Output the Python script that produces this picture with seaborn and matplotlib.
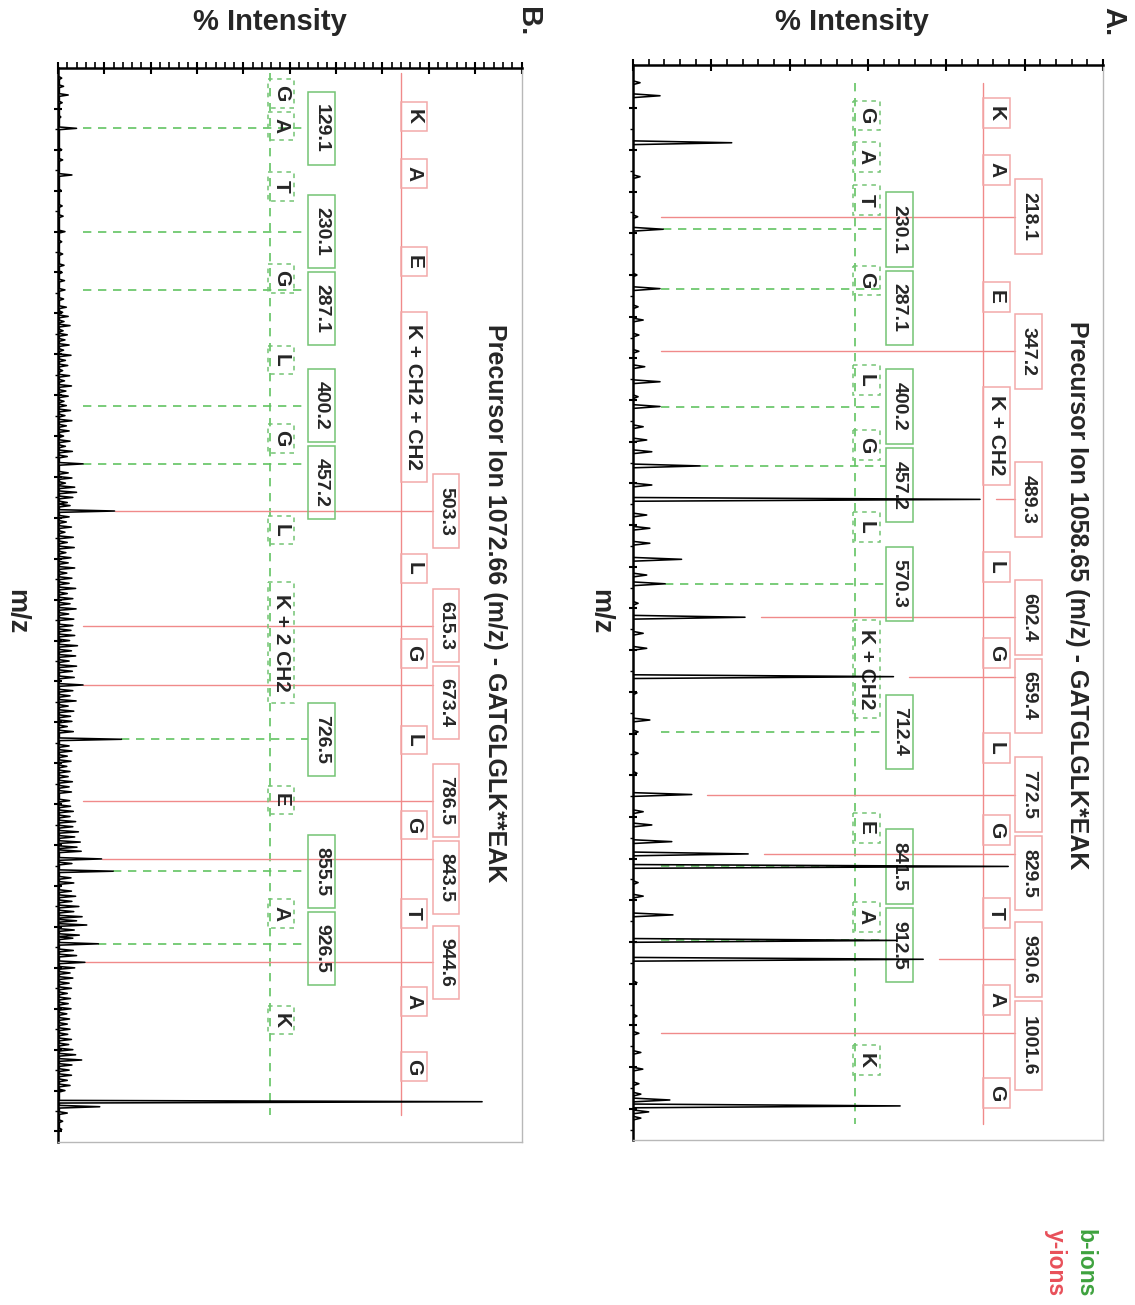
import numpy as np
import pandas as pd
import seaborn as sns
import matplotlib.pyplot as plt
from matplotlib.patches import Rectangle
from matplotlib.ticker import MultipleLocator, FixedLocator, NullFormatter

# ---------------- Spectrum A: GATGLGLK*EAK ----------------
a_title = "Precursor Ion 1058.65 (m/z) - GATGLGLK*EAK"
a_y_ions = [218.1, 347.2, 489.3, 602.4, 659.4, 772.5, 829.5, 930.6, 1001.6]
a_y_int = [1.2, 1.5, 88.6, 28.6, 66.5, 15.0, 29.4, 74.1, 1.5]
a_b_ions = [230.1, 287.1, 400.2, 457.2, 570.3, 712.4, 841.5, 912.5]
a_b_int = [7.7, 6.9, 6.9, 17.1, 8.2, 1.3, 95.8, 67.3]
a_other_mz = [89.5, 102.0, 147.1, 179.7, 274.0, 304.5, 317.2, 331.6, 362.0,
              376.4, 390.8, 419.6, 432.3, 443.6, 475.5, 504.3, 517.0, 531.4,
              546.8, 561.9, 589.0, 617.8, 632.2, 675.0, 701.0, 732.9, 752.1,
              789.0, 801.7, 817.7, 857.0, 870.0, 888.0, 953.0, 985.0, 1020.0,
              1036.0, 1050.0, 1060.0, 1065.6, 1071.3, 1077.0, 1083.0]
a_other_int = [1.8, 6.9, 25.2, 1.8, 1.0, 1.3, 2.6, 1.5, 3.0,
               6.9, 1.3, 2.6, 3.5, 4.8, 4.8, 3.5, 4.3, 4.3,
               12.4, 3.5, 1.3, 2.6, 3.5, 1.0, 4.3, 1.3, 1.0,
               2.6, 4.8, 9.9, 1.3, 2.6, 10.2, 1.0, 1.0, 2.0,
               2.5, 1.5, 2.0, 9.4, 68.2, 4.0, 2.0]
a_y_seq = ["K", "A", "E", "K + CH2", "L", "G", "L", "G", "T", "A", "G"]
a_y_seq_mz = [118.6, 173.3, 295.1, 428.1, 554.2, 636.7, 727.9, 806.6, 886.2, 969.6, 1058.9]
a_b_seq = ["G", "A", "T", "G", "L", "G", "L", "K + CH2", "E", "A", "K"]
a_b_seq_mz = [120.6, 160.8, 202.1, 278.9, 374.8, 437.2, 515.8, 652.0, 804.7, 890.0, 1027.3]

# ---------------- Spectrum B: GATGLGLK**EAK ----------------
b_title = "Precursor Ion 1072.66 (m/z) - GATGLGLK**EAK"
b_y_ions = [503.3, 615.3, 673.4, 786.5, 843.5, 944.6]
b_y_int = [12.2, 3.2, 5.4, 2.5, 9.4, 5.8]
b_b_ions = [129.1, 230.1, 287.1, 400.2, 457.2, 726.5, 855.5, 926.5]
b_b_int = [4.0, 1.5, 1.5, 1.8, 5.4, 13.7, 11.9, 8.7]
b_other_mz = [80, 88, 96.5, 104, 118, 150, 160, 174.7, 190, 205, 215, 240, 252,
              263, 270, 278, 296, 304, 309, 313, 318, 322, 327, 331, 336, 341,
              346, 351, 356, 361, 366, 371, 376, 381, 386, 391, 396, 405, 410,
              415, 420, 425, 430, 435, 440, 445, 450, 466, 471, 476, 480, 485,
              490, 495, 498, 509, 514, 519, 524, 529, 534, 539, 544, 549, 554,
              559, 564, 569, 574, 579, 584, 589, 594, 599, 604, 609, 620, 625,
              630, 635, 640, 645, 650, 655, 660, 666, 679, 684, 689, 694, 699,
              704, 709, 714, 719, 733, 738, 743, 748, 753, 758, 763, 768, 773,
              778, 792, 797, 802, 807, 812, 817, 822, 827, 832, 836, 848, 862,
              867, 875, 880, 885, 890, 895, 900, 904, 908.1, 913, 918, 921, 933,
              938, 950, 955, 960, 965, 970, 975, 980, 985, 990, 995, 1000, 1005,
              1010, 1015, 1020, 1025, 1030, 1035, 1040.1, 1045, 1050, 1055, 1060,
              1065, 1070, 1080.9, 1085.8, 1092, 1100, 1108]
b_other_int = [0.8, 1.2, 2.2, 0.9, 0.6, 0.8, 1.0, 3.0, 0.7, 0.9, 1.1, 0.8, 1.0,
               1.3, 0.9, 1.4, 1.2, 1.8, 1.0, 2.2, 1.3, 2.6, 1.1, 2.0, 1.5, 2.4,
               1.2, 2.8, 1.6, 2.1, 1.0, 2.5, 1.4, 2.9, 1.7, 2.2, 1.3, 2.7, 1.5,
               3.0, 1.8, 2.4, 1.2, 2.6, 1.6, 3.1, 2.0, 2.2, 3.0, 1.6, 3.6, 4.0,
               3.2, 2.0, 2.6, 2.4, 1.8, 2.9, 1.5, 3.3, 2.0, 3.5, 1.7, 2.8, 2.2,
               3.6, 1.9, 3.0, 2.4, 3.8, 2.0, 3.2, 2.6, 3.9, 2.3, 3.4, 2.8, 3.6,
               2.5, 4.2, 2.9, 3.8, 2.4, 4.0, 3.1, 3.5, 3.2, 2.6, 3.9, 2.2, 3.4,
               2.7, 3.0, 2.0, 3.3, 2.4, 3.0, 2.0, 2.8, 1.9, 2.6, 2.2, 3.1, 2.4,
               2.9, 2.7, 3.3, 2.6, 3.8, 3.2, 4.4, 3.6, 4.8, 4.1, 5.0, 3.0, 2.8,
               3.4, 2.9, 3.8, 3.0, 4.5, 3.4, 5.2, 4.0, 6.2, 3.5, 4.6, 3.2, 3.3,
               4.0, 3.6, 2.6, 3.2, 2.4, 2.9, 2.0, 2.7, 2.2, 2.8, 1.9, 2.5, 2.0,
               2.6, 2.1, 2.9, 2.3, 3.2, 3.8, 5.1, 3.0, 2.4, 2.9, 2.0,
               2.6, 1.5, 91.5, 9.0, 2.0, 1.0, 0.8]
b_y_seq = ["K", "A", "E", "K + CH2 + CH2", "L", "G", "L", "G", "T", "A", "G"]
b_y_seq_mz = [117.7, 173.1, 259.5, 391.8, 559.3, 642.4, 727.2, 810.3, 896.7, 983.1, 1046.7]
b_b_seq = ["G", "A", "T", "G", "L", "G", "L", "K + 2 CH2", "E", "A", "K"]
b_b_seq_mz = [94.9, 126.8, 186.2, 275.8, 355.7, 432.2, 521.9, 632.0, 785.9, 896.7, 1001.0]

# ---------------- styling ----------------
RED_LINE = "#f08a8a"
RED_BOX = "#f3a9a9"
GREEN_LINE = "#62c462"
GREEN_BOX = "#74c474"
LEGEND_GREEN = "#3ea23e"
LEGEND_RED = "#e8505a"

sns.set_style("white")
plt.rcParams["font.family"] = ["Liberation Sans", "DejaVu Sans"]

W, H = 1135, 1305
fig = plt.figure(figsize=(W / 100, H / 100), dpi=100)


def frac_box(left, top, right, bottom):
    return [left / W, 1 - bottom / H, (right - left) / W, (bottom - top) / H]


def spectrum_profile(mz, inten, half_width, base):
    order = np.argsort(mz)
    xs, ys = [], []
    for m, i in zip(np.asarray(mz)[order], np.asarray(inten)[order]):
        xs += [base, i, base]
        ys += [m - half_width, m, m + half_width]
    return pd.DataFrame({"intensity": xs, "mz": ys})


def stack_boxes(centers, lengths, gap):
    placed, prev_end = [], -np.inf
    for c, L in zip(centers, lengths):
        start = max(c - L / 2, prev_end + gap)
        placed.append(start + L / 2)
        prev_end = start + L
    return placed


def draw_panel(ax, cfg):
    xmax = cfg["xmax"]
    mz_all = list(cfg["y_ions"]) + list(cfg["b_ions"]) + list(cfg["other_mz"])
    int_all = list(cfg["y_int"]) + list(cfg["b_int"]) + list(cfg["other_int"])
    prof = spectrum_profile(mz_all, int_all, cfg["half_width"], cfg["base"])
    sns.lineplot(data=prof, x="intensity", y="mz", orient="y", sort=False,
                 estimator=None, color="black", linewidth=1.15, ax=ax, zorder=5)
    ax.set_xlabel("")
    ax.set_ylabel("")
    ax.set_xlim(0, xmax)
    ax.set_ylim(cfg["mz_max"], cfg["mz_min"])

    red_x = cfg["red_col"] * xmax
    green_x = cfg["green_col"] * xmax
    red_num_x = cfg["red_num"] * xmax
    green_num_x = cfg["green_num"] * xmax
    box_w = 0.057 * xmax
    num_len = 14.3

    # sequence ladders
    ax.plot([red_x, red_x], cfg["ladder_span"], color=RED_LINE, lw=1.0, zorder=2)
    ax.plot([green_x, green_x], cfg["ladder_span"], color=GREEN_LINE, lw=1.2,
            dashes=(5, 4), zorder=2)

    # ion lines and value boxes
    for ions, ints, num_x, color, edge, gap, dashed in [
        (cfg["y_ions"], cfg["y_int"], red_num_x, RED_LINE, RED_BOX, cfg["y_gap"], False),
        (cfg["b_ions"], cfg["b_int"], green_num_x, GREEN_LINE, GREEN_BOX, 0.0, True),
    ]:
        labels = [f"{v:.1f}" for v in ions]
        lengths = [num_len * len(t) for t in labels]
        centers = stack_boxes(ions, lengths, 4.0)
        for mz, inten, lab, c, L in zip(ions, ints, labels, centers, lengths):
            start = max(inten + gap, cfg["floor"])
            if start > num_x:
                start = cfg["floor"]
            kw = dict(color=color, lw=1.2 if dashed else 1.0, zorder=2)
            if dashed:
                kw["dashes"] = (5, 4)
            ax.plot([start, num_x], [mz, mz], **kw)
            ax.add_patch(Rectangle((num_x, c - L / 2), box_w, L, fill=False,
                                   edgecolor=edge, lw=1.1, zorder=3))
            ax.text(num_x + box_w / 2, c, lab, rotation=-90, ha="center",
                    va="center", fontsize=14, fontweight="bold", zorder=4)

    # residue boxes
    for seq, pos, col_x, edge, dashed in [
        (cfg["y_seq"], cfg["y_seq_mz"], red_x, RED_BOX, False),
        (cfg["b_seq"], cfg["b_seq_mz"], green_x - 0.004 * xmax, GREEN_BOX, True),
    ]:
        for res, m in zip(seq, pos):
            L = 28 if len(res) == 1 else 10 + 12 * len(res)
            ax.add_patch(Rectangle((col_x, m - L / 2), box_w, L, fill=False,
                                   edgecolor=edge, lw=1.1,
                                   linestyle=(0, (3, 3)) if dashed else "-",
                                   zorder=3))
            ax.text(col_x + box_w / 2, m, res, rotation=-90, ha="center",
                    va="center", fontsize=15, fontweight="bold", zorder=4)

    ax.text(cfg["title_pos"][0], cfg["title_pos"][1], cfg["title"],
            transform=ax.transAxes, rotation=-90, ha="center", va="center",
            fontsize=18, fontweight="bold")

    # axes frame and ticks
    for side in ("top", "left"):
        ax.spines[side].set_color("black")
        ax.spines[side].set_linewidth(1.8)
    for side in ("right", "bottom"):
        ax.spines[side].set_color("#b8b8b8")
        ax.spines[side].set_linewidth(1.0)
    ax.xaxis.set_major_locator(MultipleLocator(cfg["x_major"]))
    ax.xaxis.set_minor_locator(MultipleLocator(cfg["x_major"] / 5))
    ax.yaxis.set_major_locator(FixedLocator(cfg["mz_ticks"]))
    ax.yaxis.set_minor_locator(FixedLocator(np.asarray(cfg["mz_ticks"]) + 20))
    ax.xaxis.set_major_formatter(NullFormatter())
    ax.yaxis.set_major_formatter(NullFormatter())
    ax.tick_params(axis="x", which="major", direction="inout", length=9, width=1.5,
                   top=True, bottom=False, labeltop=False, labelbottom=False, color="black")
    ax.tick_params(axis="x", which="minor", direction="out", length=4, width=1.2,
                   top=True, bottom=False, color="black")
    ax.tick_params(axis="y", which="major", direction="inout", length=6, width=1.5,
                   left=True, right=False, labelleft=False, color="black")
    ax.tick_params(axis="y", which="minor", direction="out", length=2.5, width=1.0,
                   left=True, right=False, color="black")


ax_a = fig.add_axes(frac_box(633, 65, 1103, 1140))
ax_b = fig.add_axes(frac_box(58, 68, 521.5, 1141.7))

draw_panel(ax_a, dict(
    xmax=120, x_major=20, mz_min=72.5, mz_max=1104.0,
    mz_ticks=np.arange(114, 1104, 40),
    y_ions=a_y_ions, y_int=a_y_int, b_ions=a_b_ions, b_int=a_b_int,
    other_mz=a_other_mz, other_int=a_other_int,
    y_seq=a_y_seq, y_seq_mz=a_y_seq_mz, b_seq=a_b_seq, b_seq_mz=a_b_seq_mz,
    half_width=1.8, base=0.0,
    red_col=0.745, green_col=0.472, red_num=0.813, green_num=0.538,
    ladder_span=[90.0, 1089.0], floor=7.2, y_gap=4.0,
    title=a_title, title_pos=(0.945, 0.507),
))
draw_panel(ax_b, dict(
    xmax=100, x_major=10, mz_min=70.1, mz_max=1120.0,
    mz_ticks=np.arange(110, 1120, 40),
    y_ions=b_y_ions, y_int=b_y_int, b_ions=b_b_ions, b_int=b_b_int,
    other_mz=b_other_mz, other_int=b_other_int,
    y_seq=b_y_seq, y_seq_mz=b_y_seq_mz, b_seq=b_b_seq, b_seq_mz=b_b_seq_mz,
    half_width=1.3, base=0.3,
    red_col=0.739, green_col=0.457, red_num=0.808, green_num=0.540,
    ladder_span=[75.0, 1094.0], floor=5.4, y_gap=0.0,
    title=b_title, title_pos=(0.943, 0.502),
))

# figure-level labels
for xc in (852, 270):
    fig.text(xc / W, 1 - 22 / H, "% Intensity", ha="center", va="center",
             fontsize=21, fontweight="bold")
for xc, lab in [(1113, "A."), (528, "B.")]:
    fig.text(xc / W, 1 - 22 / H, lab, rotation=-90, ha="center", va="center",
             fontsize=21, fontweight="bold")
for xc in (600, 16):
    fig.text(xc / W, 1 - 612 / H, "m/z", rotation=-90, ha="center", va="center",
             fontsize=19.5, fontweight="bold")
fig.text(1085 / W, 1 - 1263 / H, "b-ions", rotation=-90, ha="center", va="center",
         fontsize=16.5, fontweight="bold", color=LEGEND_GREEN)
fig.text(1055 / W, 1 - 1263 / H, "y-ions", rotation=-90, ha="center", va="center",
         fontsize=16.5, fontweight="bold", color=LEGEND_RED)

fig.savefig("out.png", dpi=100)
